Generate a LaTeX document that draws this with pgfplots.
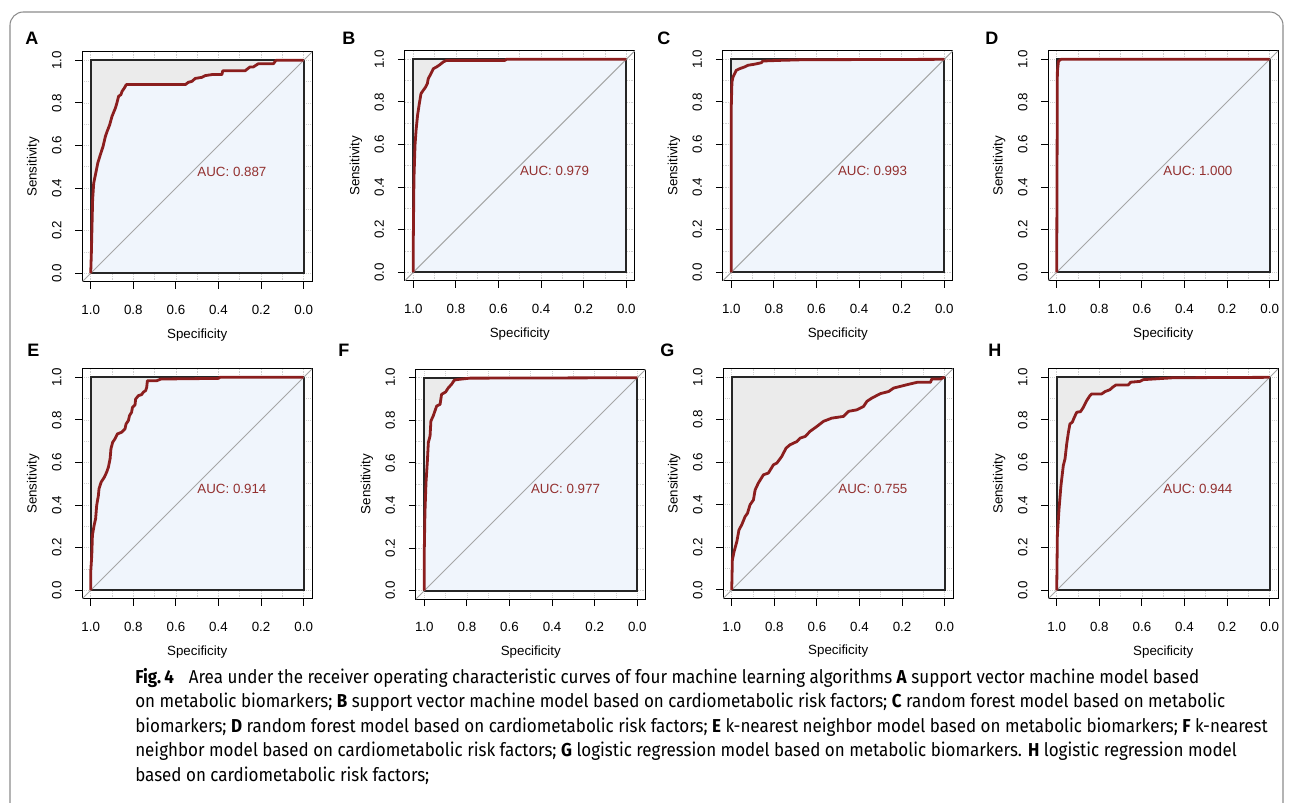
\documentclass[border=0pt]{standalone}
\usepackage{fontspec}
\setmainfont{Liberation Sans}
\newfontfamily\capfont[FakeStretch=0.91]{Fira Sans}
\usepackage{pgfplots}
\usepackage{pgfplotstable}
\pgfplotsset{compat=1.18}

\definecolor{roc}{HTML}{8B1E1E}
\definecolor{auctext}{HTML}{93302F}
\definecolor{maxfill}{HTML}{EBEBEB}
\definecolor{aucfill}{HTML}{F0F5FC}
\definecolor{gridc}{HTML}{D0D0D0}
\definecolor{diag}{HTML}{A6A6A6}
\definecolor{framec}{HTML}{8C8C8C}

% ROC curves: specificity, sensitivity
\pgfplotstableread{
spec sens
1 0
0.997 0.094
0.994 0.22
0.991 0.345
0.986 0.423
0.978 0.462
0.967 0.517
0.955 0.556
0.942 0.596
0.931 0.643
0.923 0.666
0.911 0.697
0.9 0.737
0.884 0.776
0.877 0.8
0.869 0.831
0.858 0.839
0.853 0.854
0.842 0.87
0.833 0.886
0.556 0.886
0.541 0.897
0.525 0.901
0.509 0.915
0.478 0.92
0.463 0.928
0.431 0.933
0.384 0.933
0.38 0.951
0.275 0.951
0.252 0.969
0.236 0.969
0.213 0.984
0.142 0.984
0.13 1
0 1
}\tabA
\pgfplotstableread{
spec sens
1 0
1 0.159
0.997 0.44
0.992 0.597
0.987 0.667
0.98 0.738
0.973 0.784
0.964 0.839
0.953 0.855
0.942 0.87
0.934 0.886
0.93 0.909
0.917 0.933
0.906 0.956
0.891 0.964
0.875 0.975
0.859 0.988
0.844 0.995
0.57 0.995
0.563 1
0 1
}\tabB
\pgfplotstableread{
spec sens
1 0
1 0.784
0.997 0.894
0.992 0.917
0.984 0.933
0.977 0.948
0.961 0.956
0.938 0.964
0.922 0.972
0.891 0.977
0.859 0.984
0.852 0.992
0.773 0.995
0.664 0.998
0 1
}\tabC
\pgfplotstableread{
spec sens
1 0
0.997 0.94
0.992 0.99
0.981 1
0 1
}\tabD
\pgfplotstableread{
spec sens
1 0
1 0.086
0.995 0.164
0.992 0.258
0.984 0.305
0.977 0.336
0.972 0.398
0.964 0.445
0.961 0.477
0.951 0.508
0.936 0.531
0.925 0.555
0.917 0.578
0.909 0.617
0.905 0.664
0.897 0.695
0.886 0.711
0.875 0.734
0.855 0.742
0.839 0.758
0.834 0.781
0.823 0.797
0.818 0.82
0.808 0.836
0.804 0.859
0.792 0.87
0.789 0.898
0.776 0.914
0.761 0.919
0.753 0.93
0.742 0.938
0.737 0.953
0.734 0.984
0.69 0.984
0.67 0.992
0.401 0.995
0.393 1
0 1
}\tabE
\pgfplotstableread{
spec sens
1 0
1 0.197
0.997 0.368
0.992 0.509
0.986 0.602
0.981 0.696
0.973 0.727
0.969 0.797
0.958 0.821
0.95 0.844
0.942 0.867
0.926 0.875
0.919 0.922
0.9 0.933
0.887 0.953
0.872 0.969
0.859 0.989
0.84 0.992
0.786 0.998
0 1
}\tabF
\pgfplotstableread{
spec sens
1 0
0.997 0.141
0.989 0.18
0.976 0.227
0.966 0.282
0.953 0.306
0.937 0.345
0.926 0.36
0.914 0.4
0.898 0.423
0.89 0.47
0.875 0.502
0.851 0.541
0.828 0.549
0.804 0.588
0.788 0.596
0.765 0.627
0.745 0.666
0.726 0.682
0.694 0.697
0.679 0.713
0.655 0.721
0.632 0.745
0.6 0.768
0.569 0.792
0.53 0.807
0.475 0.815
0.451 0.839
0.412 0.846
0.381 0.862
0.365 0.886
0.342 0.901
0.302 0.922
0.263 0.932
0.24 0.948
0.177 0.964
0.13 0.975
0.067 0.975
0.06 0.991
0.02 0.991
0 1
}\tabG
\pgfplotstableread{
spec sens
1 0
0.997 0.258
0.989 0.383
0.98 0.492
0.969 0.586
0.961 0.617
0.953 0.688
0.945 0.742
0.938 0.781
0.927 0.789
0.917 0.813
0.906 0.836
0.888 0.839
0.875 0.859
0.859 0.891
0.844 0.914
0.836 0.922
0.789 0.922
0.773 0.933
0.75 0.942
0.738 0.953
0.722 0.964
0.664 0.964
0.653 0.977
0.609 0.981
0.594 0.989
0.547 0.992
0.453 0.998
0 1
}\tabH

\pgfplotsset{
  rocpanel/.style={
    scale only axis, width=172.5pt, height=172.5pt,
    x dir=reverse,
    xmin=-0.04, xmax=1.04, ymin=-0.04, ymax=1.04,
    xtick={0,0.2,0.4,0.6,0.8,1}, ytick={0,0.2,0.4,0.6,0.8,1},
    minor xtick={0.1,0.3,0.5,0.7,0.9}, minor ytick={0.1,0.3,0.5,0.7,0.9},
    grid=both,
    major grid style={gridc, densely dotted, line width=0.6pt},
    minor grid style={gridc, densely dotted, line width=0.6pt},
    minor tick length=0pt,
    tick align=outside, major tick length=5.25pt,
    xtick pos=bottom, ytick pos=left,
    tick style={black, line width=0.75pt},
    axis line style={black, line width=0.75pt},
    /pgf/number format/fixed, /pgf/number format/fixed zerofill,
    /pgf/number format/precision=1, /pgf/number format/assume math mode=true,
    ticklabel style={font=\fontsize{10}{12}\selectfont},
    xticklabel style={anchor=center, yshift=-15.7pt},
    yticklabel style={anchor=center, xshift=-13.85pt, rotate=90},
    xlabel=Specificity, ylabel=Sensitivity,
    label style={font=\fontsize{10}{12}\selectfont},
    xlabel style={at={(axis description cs:0.5,-0.23)}, anchor=center},
    ylabel style={at={(axis description cs:-0.213,0.5)}, anchor=center},
    no markers, anchor=south west,
  }
}

% #1,#2: lower left corner of the plot box in reference pixels
\newcommand{\rocpanel}[4]{%
\begin{axis}[rocpanel, at={({#1*0.75pt},{-#2*0.75pt})}]
  \addplot[draw=none, fill=maxfill] coordinates {(1,0) (1,1) (0,1) (0,0)} -- cycle;
  \addplot[draw=none, fill=aucfill] table {#3} -- (axis cs:0,0) -- cycle;
  \addplot[black!85, line width=1.4pt] coordinates {(1,0) (1,1) (0,1) (0,0)} -- cycle;
  \addplot[diag, line width=0.7pt] coordinates {(1.04,-0.04) (-0.04,1.04)};
  \addplot[roc, line width=2.1pt, line join=round] table {#3};
  \node[auctext, anchor=north west, inner sep=0pt, font=\fontsize{10}{12}\selectfont]
    at (axis cs:0.5,0.5) {AUC: #4};
\end{axis}}

\begin{document}
\begin{tikzpicture}
\begin{scope}[x=0.75pt, y=-0.75pt]
\useasboundingbox (0,0) rectangle (1293,803);
\draw[framec, line width=0.8pt, rounded corners=10pt] (10,805) -- (10,12) -- (1283,12) -- (1283,805);
\end{scope}

\rocpanel{82.2}{281.8}{\tabA}{0.887}
\rocpanel{404.8}{280.8}{\tabB}{0.979}
\rocpanel{722.8}{280.8}{\tabC}{0.993}
\rocpanel{1048.2}{280.8}{\tabD}{1.000}
\rocpanel{82.2}{598.8}{\tabE}{0.914}
\rocpanel{415.8}{599.2}{\tabF}{0.977}
\rocpanel{723.2}{598.5}{\tabG}{0.755}
\rocpanel{1048.2}{598.8}{\tabH}{0.944}

\begin{scope}[x=0.75pt, y=-0.75pt, every node/.style={anchor=base west, inner sep=0pt, font=\bfseries\fontsize{13.5}{16}\selectfont}]
\node at (25,45) {A};
\node at (342,45) {B};
\node at (657,45) {C};
\node at (985,45) {D};
\node at (27,356) {E};
\node at (338,356) {F};
\node at (660,356) {G};
\node at (988,356) {H};
\end{scope}

\begin{scope}[x=0.75pt, y=-0.75pt, every node/.style={anchor=base west, inner sep=0pt, font=\capfont\fontsize{14}{17}\selectfont}]
\node at (135,683) {\textbf{Fig.\,4}\hspace{0.8em}Area under the receiver operating characteristic curves of four machine learning algorithms \textbf{A} support vector machine model based};
\node at (135,707.5) {on metabolic biomarkers; \textbf{B} support vector machine model based on cardiometabolic risk factors; \textbf{C} random forest model based on metabolic};
\node at (135,732) {biomarkers; \textbf{D} random forest model based on cardiometabolic risk factors; \textbf{E} k-nearest neighbor model based on metabolic biomarkers; \textbf{F} k-nearest};
\node at (135,756.5) {neighbor model based on cardiometabolic risk factors; \textbf{G} logistic regression model based on metabolic biomarkers. \textbf{H} logistic regression model};
\node at (135,781) {based on cardiometabolic risk factors;};
\end{scope}
\end{tikzpicture}
\end{document}
